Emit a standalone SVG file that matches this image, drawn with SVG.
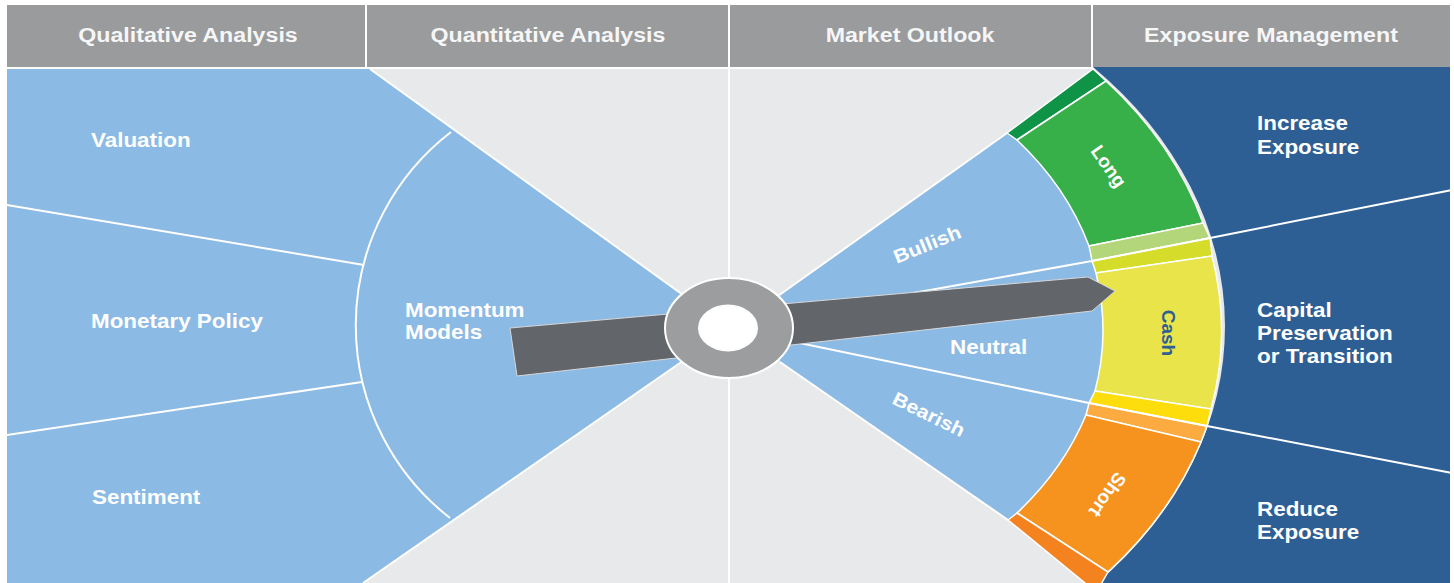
<svg xmlns="http://www.w3.org/2000/svg" width="1454" height="583" viewBox="0 0 1454 583">
  <style>
    .hdr { fill: #9A9B9D; }
    .ht { font-family: "Liberation Sans", Arial, sans-serif; font-weight: bold; font-size: 20px; fill: #F6F6F6; text-anchor: middle; }
    .t { font-family: "Liberation Sans", Arial, sans-serif; font-weight: bold; font-size: 19.5px; fill: #FFFFFF; }
    .rt { font-family: "Liberation Sans", Arial, sans-serif; font-weight: bold; font-size: 19px; fill: #FFFFFF; text-anchor: middle; }
    .lb { fill: #8BBAE4; }
    .wl { stroke: #FFFFFF; stroke-width: 2; fill: none; }
    .seg { stroke: #FFFFFF; stroke-width: 1.5; }
  </style>

  <rect x="0" y="0" width="1454" height="583" fill="#FFFFFF"/>

  <g id="headers">
    <rect class="hdr" x="7" y="5" width="358" height="62"/>
    <rect class="hdr" x="367" y="5" width="361" height="62"/>
    <rect class="hdr" x="730" y="5" width="361" height="62"/>
    <rect class="hdr" x="1093" y="5" width="357" height="62"/>
    <text class="ht" transform="translate(188,42) scale(1.16,1)">Qualitative Analysis</text>
    <text class="ht" transform="translate(548,42) scale(1.16,1)">Quantitative Analysis</text>
    <text class="ht" transform="translate(910,42) scale(1.16,1)">Market Outlook</text>
    <text class="ht" transform="translate(1271,42) scale(1.16,1)">Exposure Management</text>
  </g>

  <g id="background">
    <rect x="7" y="69" width="1443" height="514" fill="#E8E9EB"/>
    <line x1="729" y1="69" x2="729" y2="583" class="wl"/>
  </g>

  <g id="qualitative">
    <path class="lb" d="M7,69 L370,69 L690,300 L690,356 L363,583 L7,583 Z"/>
    <line class="wl" x1="370" y1="69" x2="690" y2="300"/>
    <line class="wl" x1="363" y1="583" x2="690" y2="356"/>
    <line class="wl" x1="7" y1="205" x2="364" y2="265"/>
    <line class="wl" x1="7" y1="435" x2="362" y2="382"/>
    <text class="t" transform="translate(91,147) scale(1.15,1)">Valuation</text>
    <text class="t" transform="translate(91,328) scale(1.15,1)">Monetary Policy</text>
    <text class="t" transform="translate(92,504) scale(1.15,1)">Sentiment</text>
  </g>

  <g id="momentum">
    <path class="wl" stroke-width="2.5" d="M451,132 A244,244 0 0 0 450,518"/>
    <text class="t" transform="translate(405,317) scale(1.15,1)">Momentum</text>
    <text class="t" transform="translate(405,339) scale(1.15,1)">Models</text>
  </g>

  <g id="exposure">
    <path fill="#2D5F95" d="M1093,67 L1450,67 L1450,583 L1097,583 A495,382 0 0 0 1093,67 Z"/>
    <text class="t" transform="translate(1257,130) scale(1.15,1)">Increase</text>
    <text class="t" transform="translate(1257,154) scale(1.15,1)">Exposure</text>
    <text class="t" transform="translate(1257,317) scale(1.15,1)">Capital</text>
    <text class="t" transform="translate(1257,340) scale(1.15,1)">Preservation</text>
    <text class="t" transform="translate(1257,363) scale(1.15,1)">or Transition</text>
    <text class="t" transform="translate(1257,516) scale(1.15,1)">Reduce</text>
    <text class="t" transform="translate(1257,539) scale(1.15,1)">Exposure</text>
  </g>

  <g id="outlook">
    <path class="lb" d="M778,296 L1007,133 L1017,140 L1130,200 L1160,330 L1130,460 L1017,513 L1008,520 L780,362 Z"/>
    <line class="wl" x1="778" y1="296" x2="1007" y2="133"/>
    <line class="wl" x1="780" y1="362" x2="1008" y2="520"/>
    <text class="rt" transform="translate(927,244) rotate(-22) scale(1.12,1)" y="7">Bullish</text>
    <text class="t" transform="translate(950,354) scale(1.15,1)">Neutral</text>
    <text class="rt" transform="translate(929,414) rotate(26) scale(1.12,1)" y="7">Bearish</text>
  </g>

  <g id="ring">
    <path class="seg" fill="#0F9346" d="M1007,133 L1093,69 A495,382 0 0 1 1106,81 L1017,140 A370,296 0 0 0 1007,133 Z"/>
    <path class="seg" fill="#38B04A" d="M1017,140 L1106,81 A495,382 0 0 1 1203,223 L1089,246 A370,296 0 0 0 1017,140 Z"/>
    <path class="seg" fill="#B4D67A" d="M1089,246 L1203,223 A495,382 0 0 1 1210,238 L1092,261 A370,296 0 0 0 1089,246 Z"/>
    <path class="seg" fill="#D5DC29" d="M1092,261 L1210,238 A495,382 0 0 1 1212,256 L1096,273 A370,296 0 0 0 1092,261 Z"/>
    <path class="seg" fill="#EAE44B" d="M1096,273 L1212,256 A495,382 0 0 1 1211,409 L1095,391 A370,296 0 0 0 1096,273 Z"/>
    <path class="seg" fill="#FEDD0C" d="M1095,391 L1211,409 A495,382 0 0 1 1207,426 L1089,403 A370,296 0 0 0 1095,391 Z"/>
    <path class="seg" fill="#FBAB40" d="M1089,403 L1207,426 A495,382 0 0 1 1201,442 L1086,415 A370,296 0 0 0 1089,403 Z"/>
    <path class="seg" fill="#F6921E" d="M1086,415 L1201,442 A495,382 0 0 1 1108,572 L1017,513 A370,296 0 0 0 1086,415 Z"/>
    <path class="seg" fill="#F4821F" d="M1017,513 L1108,572 A495,382 0 0 1 1096,592 L1008,520 A370,296 0 0 0 1017,513 Z"/>
    <text class="rt" transform="translate(1109,166) rotate(55)" y="7">Long</text>
    <text class="rt" style="fill:#2D5F95" transform="translate(1169,333) rotate(90)" y="7">Cash</text>
    <text class="rt" transform="translate(1108,495) rotate(125)" y="7">Short</text>
  </g>

  <g id="connectors">
    <polyline class="wl" points="785,316 1092,261 1210,238 1452,190"/>
    <polyline class="wl" points="785,340 1089,403 1207,426 1452,473"/>
  </g>

  <g id="needle">
    <polygon fill="#626569" stroke="#D6D7D9" stroke-width="1" points="510,328 1088,277 1115,291 1092,311 517,376"/>
  </g>

  <g id="hub">
    <ellipse cx="729" cy="328" rx="64" ry="50" fill="#9C9D9F" stroke="#FFFFFF" stroke-width="2"/>
    <ellipse cx="728" cy="328" rx="30" ry="23.5" fill="#FFFFFF"/>
  </g>
</svg>
